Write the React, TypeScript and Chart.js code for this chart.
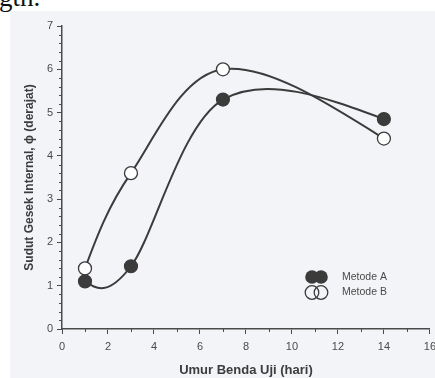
import React, { useEffect, useRef } from "react";
import { Chart, registerables } from "chart.js";

Chart.register(...registerables);

// ---- data ----
const days = [1, 3, 7, 14];
const metodeA = [1.1, 1.45, 5.3, 4.85];
const metodeB = [1.4, 3.6, 6.0, 4.4];
const seriesNames = ["Metode A", "Metode B"];
const xTitle = "Umur Benda Uji (hari)";
const yTitle = "Sudut Gesek Internal, \u03d5 (derajat)";
const xRange = [0, 16];
const yRange = [0, 7];

// ---- styles ----
const INK = "#3b3b3b";
const AXIS = "#4a4a4a";
const LABEL = "#4a4a4a";
const BG = "#f2f4f7";
const FONT = "'Liberation Sans', Arial, sans-serif";

// smooth curve through each dataset's points (Catmull-Rom with natural ends),
// mapped to pixels by the chart's own scales
const smoothLines = {
  id: "smoothLines",
  beforeDatasetsDraw(chart: any) {
    const { ctx, scales } = chart;
    const x = scales.x;
    const y = scales.y;
    ctx.save();
    chart.data.datasets.forEach((ds: any) => {
      const p = ds.data.map((d: any) => [x.getPixelForValue(d.x), y.getPixelForValue(d.y)]);
      const n = p.length;
      if (n < 2) return;
      const T: number[][] = p.map(() => [0, 0]);
      for (let i = 1; i < n - 1; i++) {
        T[i] = [(p[i + 1][0] - p[i - 1][0]) / 2, (p[i + 1][1] - p[i - 1][1]) / 2];
      }
      if (n > 2) {
        T[0] = [(3 * (p[1][0] - p[0][0]) - T[1][0]) / 2, (3 * (p[1][1] - p[0][1]) - T[1][1]) / 2];
        const a = p[n - 2], b = p[n - 1], t = T[n - 2];
        T[n - 1] = [(3 * (b[0] - a[0]) - t[0]) / 2, (3 * (b[1] - a[1]) - t[1]) / 2];
      } else {
        T[0] = [p[1][0] - p[0][0], p[1][1] - p[0][1]];
        T[1] = T[0];
      }
      ctx.beginPath();
      ctx.moveTo(p[0][0], p[0][1]);
      for (let i = 0; i < n - 1; i++) {
        ctx.bezierCurveTo(
          p[i][0] + T[i][0] / 3,
          p[i][1] + T[i][1] / 3,
          p[i + 1][0] - T[i + 1][0] / 3,
          p[i + 1][1] - T[i + 1][1] / 3,
          p[i + 1][0],
          p[i + 1][1]
        );
      }
      ctx.strokeStyle = ds.borderColor;
      ctx.lineWidth = 2;
      ctx.lineJoin = "round";
      ctx.stroke();
    });
    ctx.restore();
  },
};

const extras = {
  id: "extras",
  afterDraw(chart: any) {
    const { ctx, chartArea, scales } = chart;
    const x = scales.x;
    const y = scales.y;
    ctx.save();
    ctx.strokeStyle = AXIS;
    ctx.lineWidth = 1;
    // minor ticks on y (every 0.2)
    for (let i = 0; i <= 35; i++) {
      if (i % 5 === 0) continue;
      const py = Math.round(y.getPixelForValue(i / 5)) + 0.5;
      ctx.beginPath();
      ctx.moveTo(chartArea.left - 3, py);
      ctx.lineTo(chartArea.left, py);
      ctx.stroke();
    }
    // minor ticks on x (odd values)
    for (let v = 1; v < 16; v += 2) {
      const px = Math.round(x.getPixelForValue(v)) + 0.5;
      ctx.beginPath();
      ctx.moveTo(px, chartArea.bottom);
      ctx.lineTo(px, chartArea.bottom + 3);
      ctx.stroke();
    }
    // legend (two overlapping circles per item)
    const lx = chartArea.left + 250;
    const ly = chartArea.top + 251;
    const r = 6.8;
    seriesNames.forEach((name, i) => {
      const cy = ly + i * 15.5;
      for (let k = 0; k < 2; k++) {
        ctx.beginPath();
        ctx.arc(lx + k * 9, cy, r, 0, Math.PI * 2);
        if (i === 0) {
          ctx.fillStyle = INK;
          ctx.fill();
        } else {
          ctx.lineWidth = 1.3;
          ctx.strokeStyle = INK;
          ctx.stroke();
        }
      }
      ctx.fillStyle = LABEL;
      ctx.font = `10.5px ${FONT}`;
      ctx.textBaseline = "middle";
      ctx.textAlign = "left";
      ctx.fillText(name, lx + 30, cy);
    });
    ctx.restore();
  },
};

export default function App() {
  const ref = useRef<HTMLCanvasElement | null>(null);

  useEffect(() => {
    const canvas = ref.current;
    if (!canvas) return;
    const chart = new Chart(canvas, {
      type: "line",
      data: {
        datasets: [
          {
            label: seriesNames[0],
            data: days.map((d, i) => ({ x: d, y: metodeA[i] })),
            showLine: false,
            borderColor: INK,
            backgroundColor: INK,
            borderWidth: 2,
            pointRadius: 6.5,
            pointBorderWidth: 1.2,
            pointBorderColor: INK,
            pointBackgroundColor: INK,
          },
          {
            label: seriesNames[1],
            data: days.map((d, i) => ({ x: d, y: metodeB[i] })),
            showLine: false,
            borderColor: INK,
            backgroundColor: "#ffffff",
            borderWidth: 2,
            pointRadius: 6.5,
            pointBorderWidth: 1.3,
            pointBorderColor: INK,
            pointBackgroundColor: "#ffffff",
          },
        ],
      },
      options: {
        animation: false,
        responsive: false,
        maintainAspectRatio: false,
        layout: { padding: { top: 15, left: 0, right: 0, bottom: 0 } },
        plugins: {
          legend: { display: false },
          tooltip: { enabled: false },
        },
        scales: {
          x: {
            type: "linear",
            min: xRange[0],
            max: xRange[1],
            ticks: {
              stepSize: 2,
              color: LABEL,
              padding: 6,
              font: { family: FONT, size: 11 },
            },
            grid: {
              drawOnChartArea: false,
              tickLength: 5,
              tickColor: AXIS,
              tickWidth: 1,
            },
            border: { color: AXIS, width: 1.5 },
            title: {
              display: true,
              text: xTitle,
              color: "#3c3c3c",
              font: { family: FONT, size: 13, weight: "bold" },
              padding: { top: 8, bottom: 0 },
            },
            afterFit: (s: any) => {
              s.height = 49;
            },
          },
          y: {
            type: "linear",
            min: yRange[0],
            max: yRange[1],
            ticks: {
              stepSize: 1,
              color: LABEL,
              padding: 4,
              font: { family: FONT, size: 11 },
            },
            grid: {
              drawOnChartArea: false,
              tickLength: 5,
              tickColor: AXIS,
              tickWidth: 1,
            },
            border: { color: AXIS, width: 1.5 },
            title: {
              display: true,
              text: yTitle,
              color: "#3c3c3c",
              font: { family: FONT, size: 12, weight: "bold" },
              padding: { top: 12, bottom: 0 },
            },
            afterFit: (s: any) => {
              s.width = 52;
            },
          },
        },
      },
      plugins: [smoothLines, extras],
    });
    return () => chart.destroy();
  }, []);

  return (
    <div
      style={{
        position: "fixed",
        left: 0,
        top: 0,
        width: 435,
        height: 378,
        overflow: "hidden",
        background: "#ffffff",
      }}
    >
      <div
        style={{
          position: "absolute",
          left: -1,
          top: -17,
          fontFamily: "'Liberation Serif', 'Times New Roman', serif",
          fontSize: 27,
          color: "#111",
          lineHeight: "28px",
          whiteSpace: "nowrap",
        }}
      >
        gth.
      </div>
      <div
        style={{
          position: "absolute",
          left: 10,
          top: 11,
          width: 425,
          height: 367,
          overflow: "hidden",
          background: BG,
        }}
      >
        <canvas
          ref={ref}
          width={432}
          height={367}
          style={{ display: "block", width: 432, height: 367 }}
        />
      </div>
    </div>
  );
}
